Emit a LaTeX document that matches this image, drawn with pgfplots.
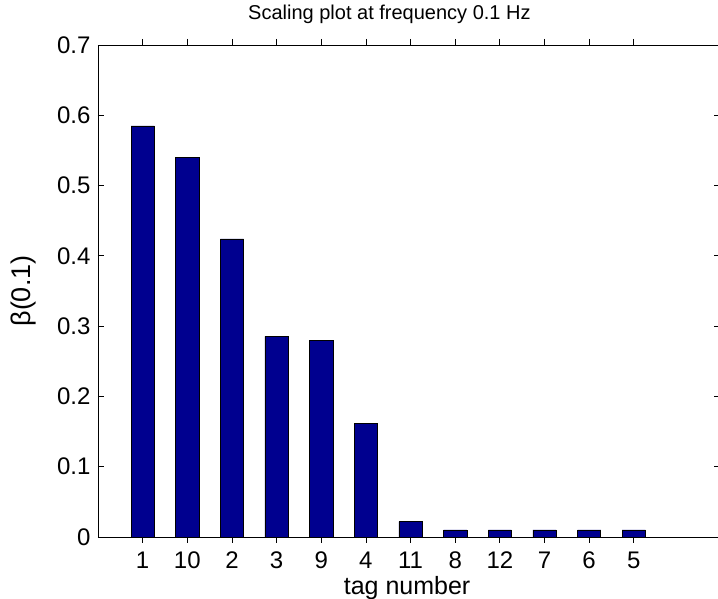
\documentclass[border=0pt]{standalone}
\usepackage{pgfplots}
\pgfplotsset{compat=1.18}
\usepackage{fontspec}
\setmainfont{Liberation Sans}
\definecolor{barblue}{RGB}{0,0,143}
\begin{document}
\begin{tikzpicture}
\useasboundingbox (-98pt,-62pt) rectangle (620pt,537pt);
\begin{axis}[
 at={(0,0)}, anchor=south west,
 scale only axis, width=622pt, height=492pt,
 xmin=0, xmax=13.93, ymin=0, ymax=0.7,
 xtick={1,2,3,4,5,6,7,8,9,10,11,12},
 xticklabels={1,10,2,3,9,4,11,8,12,7,6,5},
 ytick={0,0.1,0.2,0.3,0.4,0.5,0.6,0.7},
 yticklabel style={/pgf/number format/fixed, /pgf/number format/precision=1, xshift=-4pt},
 xticklabel style={yshift=-5pt},
 /pgf/number format/assume math mode=true,
 tick label style={font=\fontsize{24}{24}\selectfont},
 tick align=inside, tick pos=both,
 major tick length=6pt,
 tick style={black, line width=0.8pt},
 axis line style={black, line width=0.8pt},
 title={Scaling plot at frequency 0.1 Hz},
 title style={font=\fontsize{20}{20}\selectfont, at={(axis description cs:0.4685,1)}, anchor=base, yshift=19pt},
 xlabel={tag number},
 xlabel style={font=\fontsize{25}{25}\selectfont, at={(axis description cs:0.497,0)}, anchor=base, yshift=-58pt},
 ylabel={β(0.1)},
 ylabel style={font=\fontsize{27}{27}\selectfont, at={(axis description cs:-0.119,0.5)}, anchor=center},
 ybar, bar width=0.52,
]
\addplot[fill=barblue, draw=black, line width=0.6pt] coordinates {
 (1,0.585) (2,0.540) (3,0.424) (4,0.2855) (5,0.280) (6,0.162)
 (7,0.022) (8,0.010) (9,0.010) (10,0.010) (11,0.010) (12,0.010)
};
\end{axis}
\end{tikzpicture}
\end{document}
